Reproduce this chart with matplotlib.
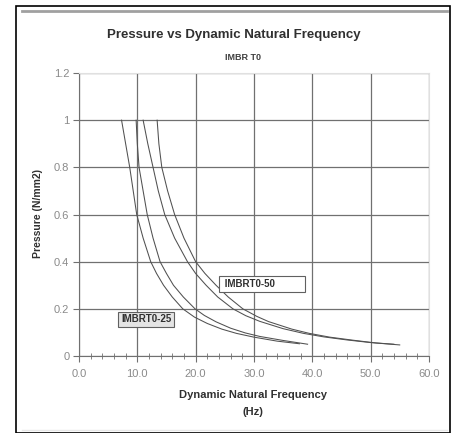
import matplotlib
matplotlib.use("Agg")
from matplotlib import pyplot as plt
from matplotlib.patches import Rectangle
from matplotlib.lines import Line2D

plt.rcParams['font.family'] = ['Liberation Sans', 'DejaVu Sans']

# curves: (frequency Hz, pressure N/mm2)
freq_25a = [7.3, 8.0, 8.7, 9.3, 9.9, 11.0, 12.3, 13.3, 14.5, 16.0, 17.8, 19.8, 22.0, 24.5, 27.0, 30.0, 34.0, 37.8]
pres_25a = [1.0, 0.9, 0.8, 0.7, 0.6, 0.5, 0.4, 0.35, 0.3, 0.25, 0.2, 0.165, 0.138, 0.114, 0.096, 0.08, 0.063, 0.052]
freq_25b = [9.8, 10.0, 10.3, 11.0, 11.7, 12.7, 13.9, 15.0, 16.2, 17.9, 19.9, 21.5, 23.5, 26.0, 28.5, 31.0, 35.0, 39.2]
pres_25b = [1.0, 0.9, 0.8, 0.7, 0.6, 0.5, 0.4, 0.35, 0.3, 0.25, 0.2, 0.172, 0.145, 0.118, 0.098, 0.083, 0.066, 0.05]
freq_50a = [11.0, 11.8, 12.7, 13.6, 14.7, 16.4, 18.6, 20.0, 21.8, 23.8, 26.4, 28.6, 31.0, 35.0, 38.5, 42.0, 46.0, 50.0, 54.0]
pres_50a = [1.0, 0.9, 0.8, 0.7, 0.6, 0.5, 0.4, 0.35, 0.3, 0.25, 0.2, 0.171, 0.147, 0.116, 0.096, 0.081, 0.068, 0.057, 0.05]
freq_50b = [13.4, 13.7, 14.2, 15.2, 16.4, 18.0, 20.0, 21.6, 23.5, 25.6, 28.1, 30.5, 32.5, 36.5, 39.5, 43.0, 47.0, 51.0, 55.0]
pres_50b = [1.0, 0.9, 0.8, 0.7, 0.6, 0.5, 0.4, 0.35, 0.3, 0.25, 0.2, 0.168, 0.146, 0.114, 0.096, 0.08, 0.067, 0.055, 0.047]

labels = ['IMBRT0-25', 'IMBRT0-50']

fig = plt.figure(figsize=(4.55, 4.33), dpi=100)
fig.patch.set_facecolor('white')

# outer frame and top bar like the original page
fig.add_artist(Rectangle((16 / 455, 0), 434 / 455, 427 / 433, transform=fig.transFigure,
                         fill=False, edgecolor='black', linewidth=1.2))
fig.add_artist(Line2D([22 / 455, 447 / 455], [1 - 11 / 433, 1 - 11 / 433], transform=fig.transFigure,
                      color='#a0a0a0', linewidth=2))
fig.add_artist(Line2D([22 / 455, 447 / 455], [1 - 430 / 433, 1 - 430 / 433], transform=fig.transFigure,
                      color='#e8e8e8', linewidth=1))

ax = fig.add_axes([0.1736, 0.1778, 0.769, 0.6536])

for f, p in [(freq_25a, pres_25a), (freq_25b, pres_25b), (freq_50a, pres_50a), (freq_50b, pres_50b)]:
    ax.plot(f, p, color='#505050', linewidth=0.75, zorder=3)

ax.set_xlim(0, 60)
ax.set_ylim(0, 1.2)
ax.set_xticks([0, 10, 20, 30, 40, 50, 60])
ax.set_xticklabels(['%.1f' % v for v in [0, 10, 20, 30, 40, 50, 60]])
ax.set_xticks(range(0, 61, 2), minor=True)
ax.set_yticks([0, 0.2, 0.4, 0.6, 0.8, 1, 1.2])
ax.set_yticklabels(['0', '0.2', '0.4', '0.6', '0.8', '1', '1.2'])
ax.grid(True, which='major', color='#707070', linewidth=0.9)

ax.tick_params(axis='both', which='major', labelsize=8, labelcolor='#8a8a8a', color='#707070',
               length=4, direction='out')
ax.tick_params(axis='x', which='minor', length=4, direction='inout', color='#707070')
ax.tick_params(axis='x', which='major', pad=5)
ax.tick_params(axis='y', which='major', pad=3)

for side in ['left', 'bottom']:
    ax.spines[side].set_color('#707070')
for side in ['top', 'right']:
    ax.spines[side].set_color('#e0e0e0')

ax.text(11.5, 0.155, labels[0], fontsize=7, fontweight='bold', ha='center', va='center', zorder=4,
        color='#303030',
        bbox=dict(boxstyle='square,pad=0.3', facecolor='#e4e4e4', edgecolor='#606060', linewidth=0.8))
ax.text(31.4, 0.304, ' ' + labels[1] + '          ', fontsize=7, fontweight='bold', ha='center',
        va='center', zorder=4, color='#303030',
        bbox=dict(boxstyle='square,pad=0.3', facecolor='white', edgecolor='#606060', linewidth=0.8))

fig.text(234 / 455, 1 - 35 / 433, 'Pressure vs Dynamic Natural Frequency', ha='center', va='center',
         fontsize=9.5, fontweight='bold', color='#303030')
fig.text(243 / 455, 1 - 57 / 433, 'IMBR T0', ha='center', va='center', fontsize=6.5,
         fontweight='bold', color='#404040')
fig.text(38 / 455, 1 - 214 / 433, 'Pressure (N/mm2)', rotation=90, ha='center', va='center',
         fontsize=7.5, fontweight='bold', color='#303030')
fig.text(253 / 455, 1 - 395 / 433, 'Dynamic Natural Frequency', ha='center', va='center',
         fontsize=8, fontweight='bold', color='#303030')
fig.text(253 / 455, 1 - 412 / 433, '(Hz)', ha='center', va='center',
         fontsize=8, fontweight='bold', color='#303030')

fig.savefig('out.png', dpi=100)
